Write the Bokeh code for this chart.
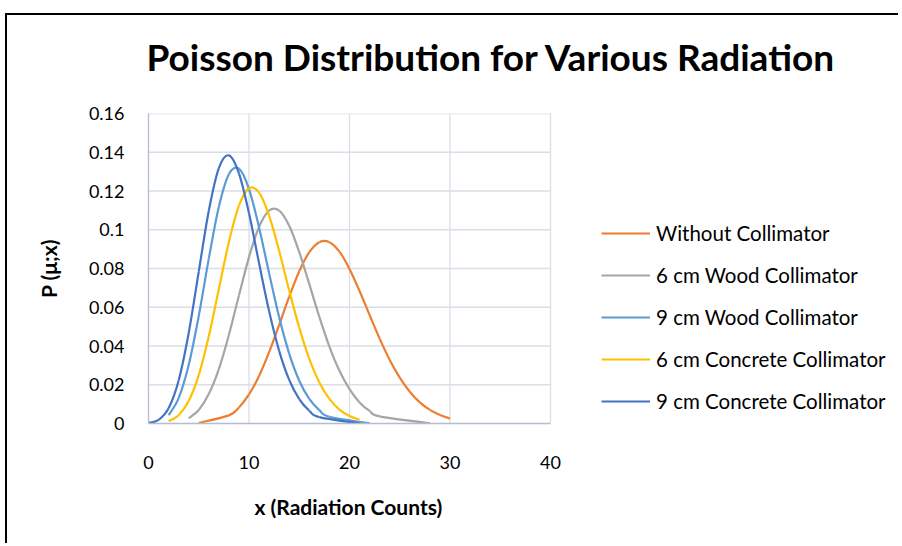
import numpy as np
from bokeh.plotting import figure
from bokeh.models import (ColumnDataSource, Range1d, FixedTicker, Legend, LegendItem, Title)
from bokeh.embed import file_html
from bokeh.resources import INLINE

# ---------------- data ----------------
x_without = [5, 8, 9, 10, 11, 12, 13, 14, 15, 16, 17, 18, 19, 20, 21, 22, 23, 24, 25, 26, 27, 28, 29, 30]
y_without = [0.0003, 0.0042, 0.0083, 0.0150, 0.0245, 0.0368, 0.0509, 0.0655, 0.0786, 0.0884, 0.0936,
             0.0936, 0.0887, 0.0798, 0.0684, 0.0560, 0.0438, 0.0328, 0.0237, 0.0164, 0.0109, 0.0070,
             0.0044, 0.0026]

x_wood6 = [4, 5, 6, 7, 8, 9, 10, 11, 12, 13, 14, 15, 16, 17, 18, 19, 20, 21, 22, 23, 28]
y_wood6 = [0.0027, 0.0070, 0.0152, 0.0281, 0.0457, 0.0661, 0.0859, 0.1015, 0.1099, 0.1099, 0.1021,
           0.0885, 0.0719, 0.0550, 0.0397, 0.0272, 0.0177, 0.0109, 0.0065, 0.0037, 0.0001]

x_wood9 = [2, 3, 4, 5, 6, 7, 8, 9, 10, 11, 12, 13, 14, 15, 16, 17, 18, 22]
y_wood9 = [0.0043, 0.0131, 0.0302, 0.0555, 0.0851, 0.1119, 0.1287, 0.1315, 0.1210, 0.1012, 0.0776,
           0.0549, 0.0361, 0.0221, 0.0127, 0.0069, 0.0035, 0.0001]

x_conc6 = [2, 3, 4, 5, 6, 7, 8, 9, 10, 11, 12, 13, 14, 15, 16, 17, 18, 19, 20, 21]
y_conc6 = [0.0012, 0.0043, 0.0116, 0.0250, 0.0450, 0.0694, 0.0937, 0.1124, 0.1214, 0.1192, 0.1073,
           0.0891, 0.0687, 0.0495, 0.0334, 0.0212, 0.0127, 0.0072, 0.0039, 0.0020]

x_conc9 = [0, 1, 2, 3, 4, 5, 6, 7, 8, 9, 10, 11, 12, 13, 14, 15, 16, 17, 21]
y_conc9 = [0.0002, 0.0019, 0.0079, 0.0222, 0.0467, 0.0784, 0.1098, 0.1318, 0.1384, 0.1291, 0.1085,
           0.0828, 0.0580, 0.0375, 0.0225, 0.0126, 0.0066, 0.0033, 0.0001]

series_names = ["Without Collimator", "6 cm Wood Collimator", "9 cm Wood Collimator",
                "6 cm Concrete Collimator", "9 cm Concrete Collimator"]
series_colors = ["#ED7D31", "#A5A5A5", "#5B9BD5", "#FFC000", "#4472C4"]

x_ticks = [0, 10, 20, 30, 40]
x_tick_labels = ["0", "10", "20", "30", "40"]
y_ticks = [0, 0.02, 0.04, 0.06, 0.08, 0.10, 0.12, 0.14, 0.16]
y_tick_labels = ["0", "0.02", "0.04", "0.06", "0.08", "0.1", "0.12", "0.14", "0.16"]

title_text = "Poisson Distribution for Various Radiation"
x_title = "x (Radiation Counts)"
y_title = "P (\u03bc;x)"

FONT = "Lato"

# ---------------- layout (pixels) ----------------
W, H = 893, 530
LEFT, TOP, BOTTOM = 141, 98, 122
AXIS_PX = 402                      # pixel length of the 0..40 x axis
x_end = x_ticks[-1] * (W - LEFT) / AXIS_PX   # frame reaches the right edge so the legend fits inside

p = figure(width=W, height=H, output_backend="svg", toolbar_location=None,
           x_range=Range1d(0, x_end), y_range=Range1d(y_ticks[0], y_ticks[-1]),
           min_border_left=LEFT, min_border_right=0,
           min_border_top=TOP, min_border_bottom=BOTTOM)
p.styles = {"position": "relative", "left": "5px", "top": "13px",
            "border-left": "2px solid #000000", "border-top": "2px solid #000000"}
p.outline_line_color = None
p.background_fill_color = "white"
p.border_fill_color = "white"
p.title.text = ""

# spacer panel between the frame and the chart title (closest to the frame)
spacer = Title(text=" ", standoff=21, text_font=FONT, text_font_size="10px")
p.add_layout(spacer, "above")
main_title = Title(text=title_text, align="left", offset=-2, standoff=0,
                   text_font=FONT, text_font_style="bold", text_font_size="37px",
                   text_color="#000000")
p.add_layout(main_title, "above")

grid_color = "#D9DEE7"
axis_color = "#B4BDD0"
p.xgrid.grid_line_color = None
p.ygrid.grid_line_color = None

# grid lines limited to the 0..40 / 0..0.16 box
gx = x_ticks[1:]
gy = y_ticks[1:]
p.segment(x0=gx, y0=[y_ticks[0]] * len(gx), x1=gx, y1=[y_ticks[-1]] * len(gx),
          line_color=grid_color, line_width=1.3, level="underlay")
p.segment(x0=[x_ticks[0]] * len(gy), y0=gy, x1=[x_ticks[-1]] * len(gy), y1=gy,
          line_color=grid_color, line_width=1.3, level="underlay")

p.xaxis.ticker = FixedTicker(ticks=x_ticks)
p.yaxis.ticker = FixedTicker(ticks=y_ticks)
p.xaxis.bounds = (x_ticks[0], x_ticks[-1])
p.xaxis.major_label_overrides = {t: l for t, l in zip(x_ticks, x_tick_labels)}
p.yaxis.major_label_overrides = {t: l for t, l in zip(y_ticks, y_tick_labels)}

for ax in (p.xaxis, p.yaxis):
    ax.axis_line_color = axis_color
    ax.axis_line_width = 1.3
    ax.major_tick_line_color = None
    ax.minor_tick_line_color = None
    ax.major_tick_out = 0
    ax.major_tick_in = 0
    ax.major_label_text_font = FONT
    ax.major_label_text_font_size = "18px"
    ax.major_label_text_color = "#000000"
    ax.axis_label_text_font = FONT
    ax.axis_label_text_font_style = "bold"
    ax.axis_label_text_font_size = "21px"
    ax.axis_label_text_color = "#000000"

p.yaxis.axis_label = y_title
p.xaxis.major_label_standoff = 32
p.yaxis.major_label_standoff = 24
p.yaxis.axis_label_standoff = 25

# x axis title centred under the 0..40 axis (the frame itself is wider)
x_label = Title(text=x_title, align="left", offset=106, standoff=40,
                text_font=FONT, text_font_style="bold", text_font_size="21px",
                text_color="#000000")
p.add_layout(x_label, "below")


def bezier_source(xs, ys):
    pts = np.column_stack([np.asarray(xs, float), np.asarray(ys, float)])
    n = len(pts)
    x0, y0, x1, y1, cx0, cy0, cx1, cy1 = ([] for _ in range(8))
    for i in range(n - 1):
        a = pts[i - 1] if i > 0 else pts[i]
        b = pts[i]
        c = pts[i + 1]
        d = pts[i + 2] if i + 2 < n else pts[i + 1]
        k0 = b + (c - a) / 6.0
        k1 = c - (d - b) / 6.0
        x0.append(b[0]); y0.append(b[1]); x1.append(c[0]); y1.append(c[1])
        cx0.append(k0[0]); cy0.append(max(k0[1], 0.0)); cx1.append(k1[0]); cy1.append(max(k1[1], 0.0))
    return ColumnDataSource(dict(x0=x0, y0=y0, x1=x1, y1=y1, cx0=cx0, cy0=cy0, cx1=cx1, cy1=cy1))


all_x = [x_without, x_wood6, x_wood9, x_conc6, x_conc9]
all_y = [y_without, y_wood6, y_wood9, y_conc6, y_conc9]

items = []
for name, color, xs, ys in zip(series_names, series_colors, all_x, all_y):
    src = bezier_source(xs, ys)
    r = p.bezier(x0="x0", y0="y0", x1="x1", y1="y1", cx0="cx0", cy0="cy0", cx1="cx1", cy1="cy1",
                 source=src, line_color=color, line_width=2.2)
    items.append(LegendItem(label=name, renderers=[r]))

legend = Legend(items=items, location=(453, 10), orientation="vertical",
                glyph_width=49, glyph_height=24, label_height=24, label_standoff=6,
                spacing=18, padding=0, margin=0,
                label_text_font=FONT, label_text_font_size="20.5px", label_text_color="#000000",
                border_line_color=None, background_fill_alpha=0)
p.add_layout(legend, "center")

open("out.html", "w").write(file_html(p, INLINE))
